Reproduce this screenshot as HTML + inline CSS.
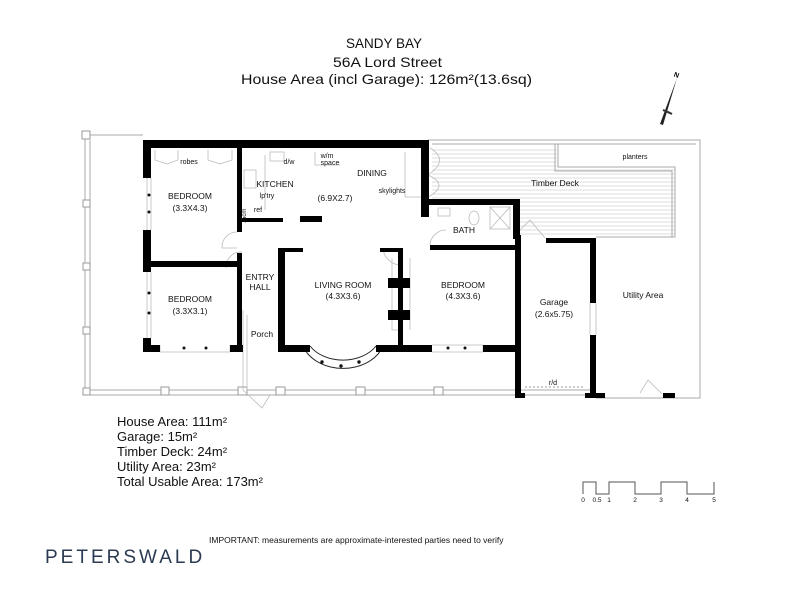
<!DOCTYPE html>
<html><head><meta charset="utf-8"><style>
html,body{margin:0;padding:0;background:#fff;}
svg{display:block;font-family:"Liberation Sans",sans-serif;}
</style></head><body>
<svg width="800" height="600" viewBox="0 0 800 600" xmlns="http://www.w3.org/2000/svg">
<rect width="800" height="600" fill="#fff"/>
<!-- title -->
<g font-size="14" fill="#111">
<text x="346" y="48" textLength="76" lengthAdjust="spacingAndGlyphs">SANDY BAY</text>
<text x="333" y="67" textLength="109" lengthAdjust="spacingAndGlyphs">56A Lord Street</text>
<text x="241" y="84" textLength="291" lengthAdjust="spacingAndGlyphs">House Area (incl Garage): 126m²(13.6sq)</text>
</g>
<!-- compass -->
<g>
<polygon points="677,78 660,124 663,125" fill="#222"/>
<polygon points="663,110 672,114 668,112" fill="#333" stroke="#333" stroke-width="2"/>
<text x="674" y="77" font-size="7" font-weight="bold" transform="rotate(20 676 75)">N</text>
</g>
<!-- verandah outline -->
<g fill="none" stroke="#aaa" stroke-width="1">
<path d="M85,135 V395 H596"/>
<path d="M90,140 V390 H596"/>
<path d="M85,135 H143"/>
<path d="M428,140 H700 V398 H596"/>
<path d="M432,144 H696"/>
</g>
<g fill="#fff" stroke="#999" stroke-width="1">
<rect x="82" y="131" width="8" height="8"/>
<rect x="83" y="200" width="7" height="7"/>
<rect x="83" y="263" width="7" height="7"/>
<rect x="83" y="327" width="7" height="7"/>
<rect x="83" y="388" width="7" height="7"/>
<rect x="161" y="387" width="8" height="8"/>
<rect x="238" y="387" width="9" height="8"/>
<rect x="276" y="387" width="9" height="8"/>
<rect x="356" y="387" width="9" height="8"/>
<rect x="434" y="387" width="9" height="8"/>
</g>
<!-- deck lines -->
<g stroke="#bbb" stroke-width="0.6">
<line x1="432" y1="150" x2="557" y2="150"/><line x1="432" y1="154" x2="557" y2="154"/><line x1="432" y1="158" x2="557" y2="158"/><line x1="432" y1="162" x2="557" y2="162"/><line x1="432" y1="166" x2="557" y2="166"/>
<line x1="432" y1="170" x2="675" y2="170"/><line x1="432" y1="174" x2="675" y2="174"/><line x1="432" y1="178" x2="675" y2="178"/><line x1="432" y1="182" x2="675" y2="182"/><line x1="432" y1="186" x2="675" y2="186"/><line x1="432" y1="190" x2="675" y2="190"/><line x1="432" y1="194" x2="675" y2="194"/><line x1="432" y1="198" x2="675" y2="198"/>
<line x1="520" y1="202" x2="675" y2="202"/><line x1="520" y1="206" x2="675" y2="206"/><line x1="520" y1="210" x2="675" y2="210"/><line x1="520" y1="214" x2="675" y2="214"/><line x1="520" y1="218" x2="675" y2="218"/><line x1="520" y1="222" x2="675" y2="222"/><line x1="520" y1="226" x2="675" y2="226"/><line x1="520" y1="230" x2="675" y2="230"/><line x1="520" y1="234" x2="675" y2="234"/>
</g>
<g fill="none" stroke="#aaa" stroke-width="1">
<path d="M558,144 V167 H675 V237 H596"/>
<path d="M555,144 V171 H672 V237"/>
</g>
<!-- thin interior lines -->
<g fill="none" stroke="#bbb" stroke-width="0.8">
<path d="M243,310 V390"/><path d="M247,315 V390"/>
<path d="M243,390 L262,408 L270,395"/>
<path d="M405,152 V197 H422"/>
<path d="M315,152 V165 H340"/>
<path d="M265,155 V210"/>
<path d="M392,258 V330 H402"/>
<path d="M410,258 V330"/>
<path d="M520,230 L530,220 L545,238"/>
<path d="M640,393 L648,380 L662,394"/>
<path d="M428,175 Q450,160 430,148"/><path d="M428,175 Q450,185 428,197"/>
<path d="M237,232 A15 15 0 0 0 222,248 H237"/>
<path d="M242,252 A15 15 0 0 0 226,268"/>
<path d="M383,248 A18 18 0 0 0 400,265"/>
<path d="M430,245 A16 16 0 0 1 446,230"/>
<path d="M590,303 V335 M596,303 V335"/>
<path d="M151,178 V230 M147,178 V230 M151,272 V338 M147,272 V338"/>
<path d="M160,345 V352 H230 V345 M432,345 H483 V352 H432"/>
<path d="M155,150 V160 L167,164 L178,160 V150 M208,150 V160 L220,164 L232,160 V150"/>
<rect x="438" y="208" width="12" height="8"/>
<rect x="490" y="207" width="20" height="22"/>
<path d="M490,207 L510,229 M510,207 L490,229"/>
<ellipse cx="474" cy="218" rx="5" ry="7"/>
<rect x="270" y="152" width="14" height="9"/>
<rect x="244" y="170" width="12" height="18"/>
</g>
<!-- bay window -->
<g fill="none" stroke="#222" stroke-width="1">
<path d="M310,346 A38 28 0 0 0 376,346"/>
<path d="M305,350 A42 32 0 0 0 381,350"/>
</g>
<g fill="#111"><circle cx="322" cy="362" r="1.7"/><circle cx="341" cy="366" r="1.7"/><circle cx="359" cy="362" r="1.7"/>
<circle cx="184" cy="348" r="1.5"/><circle cx="206" cy="348" r="1.5"/><circle cx="448" cy="348" r="1.5"/><circle cx="465" cy="348" r="1.5"/>
<circle cx="149" cy="195" r="1.5"/><circle cx="149" cy="212" r="1.5"/><circle cx="149" cy="293" r="1.5"/><circle cx="149" cy="313" r="1.5"/>
</g>
<!-- walls -->
<g fill="#000">
<rect x="143" y="140" width="285" height="8"/>
<rect x="143" y="140" width="8" height="38"/>
<rect x="143" y="230" width="8" height="42"/>
<rect x="143" y="338" width="8" height="14"/>
<rect x="143" y="345" width="17" height="7"/>
<rect x="230" y="345" width="13" height="7"/>
<rect x="143" y="261" width="97" height="6"/>
<rect x="237" y="148" width="5" height="84"/>
<rect x="237" y="253" width="5" height="99"/>
<rect x="242" y="218" width="41" height="4"/>
<rect x="300" y="216" width="22" height="6"/>
<rect x="278" y="248" width="7" height="104"/>
<rect x="285" y="248" width="18" height="4"/>
<rect x="278" y="345" width="32" height="7"/>
<rect x="376" y="345" width="56" height="7"/>
<rect x="380" y="248" width="20" height="4"/>
<rect x="398" y="248" width="5" height="104"/>
<rect x="388" y="278" width="22" height="10"/>
<rect x="388" y="310" width="22" height="10"/>
<rect x="421" y="140" width="8" height="65"/>
<rect x="421" y="199" width="99" height="6"/>
<rect x="421" y="205" width="8" height="12"/>
<rect x="513" y="199" width="7" height="40"/>
<rect x="430" y="245" width="85" height="5"/>
<rect x="483" y="345" width="37" height="7"/>
<rect x="515" y="235" width="6" height="163"/>
<rect x="515" y="393" width="10" height="5"/>
<rect x="546" y="238" width="50" height="5"/>
<rect x="590" y="238" width="6" height="65"/>
<rect x="590" y="335" width="6" height="63"/>
<rect x="585" y="393" width="20" height="5"/>
<rect x="663" y="393" width="12" height="5"/>
</g>
<path d="M525,387 H585" stroke="#999" stroke-dasharray="2,2" fill="none"/>
<!-- labels -->
<g font-size="8.5" fill="#111" text-anchor="middle">
<text x="189" y="164" font-size="7">robes</text>
<text x="190" y="199">BEDROOM</text><text x="190" y="211">(3.3X4.3)</text>
<text x="190" y="302">BEDROOM</text><text x="190" y="314">(3.3X3.1)</text>
<text x="275" y="187">KITCHEN</text>
<text x="267" y="198" font-size="7">lp'try</text>
<text x="258" y="212" font-size="7">ref</text>
<text x="289" y="164" font-size="7">d/w</text>
<text x="327" y="158" font-size="7">w/m</text><text x="330" y="165" font-size="7">space</text>
<text x="372" y="176">DINING</text>
<text x="335" y="201">(6.9X2.7)</text>
<text x="392" y="193" font-size="7">skylights</text>
<text x="260" y="280">ENTRY</text><text x="260" y="290">HALL</text>
<text x="262" y="337">Porch</text>
<text x="343" y="288">LIVING ROOM</text><text x="343" y="299">(4.3X3.6)</text>
<text x="463" y="288">BEDROOM</text><text x="463" y="299">(4.3X3.6)</text>
<text x="464" y="233">BATH</text>
<text x="554" y="305">Garage</text><text x="554" y="317">(2.6x5.75)</text>
<text x="643" y="298">Utility Area</text>
<text x="555" y="186">Timber Deck</text>
<text x="635" y="159" font-size="7">planters</text>
<text x="553" y="385" font-size="7">r/d</text>
<text x="246" y="216" font-size="6" transform="rotate(-90 246 216)">75cm</text>
</g>
<!-- area text -->
<g font-size="13" fill="#111">
<text x="117" y="426">House Area: 111m²</text>
<text x="117" y="441">Garage: 15m²</text>
<text x="117" y="456">Timber Deck: 24m²</text>
<text x="117" y="471">Utility Area: 23m²</text>
<text x="117" y="486">Total Usable Area: 173m²</text>
</g>
<!-- scale -->
<path d="M583,494 V482 H596 V494 H609 V482 H635 V494 H661 V482 H687 V494 H714 V482" fill="none" stroke="#555" stroke-width="1"/>
<g font-size="6.5" fill="#111" text-anchor="middle">
<text x="583" y="502">0</text><text x="597" y="502">0.5</text><text x="609" y="502">1</text><text x="635" y="502">2</text><text x="661" y="502">3</text><text x="687" y="502">4</text><text x="714" y="502">5</text>
</g>
<text x="209" y="543" font-size="8.5" fill="#111">IMPORTANT: measurements are approximate-interested parties need to verify</text>
<text x="45" y="563" font-size="19" letter-spacing="3" fill="#2b3a52">PETERSWALD</text>
</svg>
</body></html>
